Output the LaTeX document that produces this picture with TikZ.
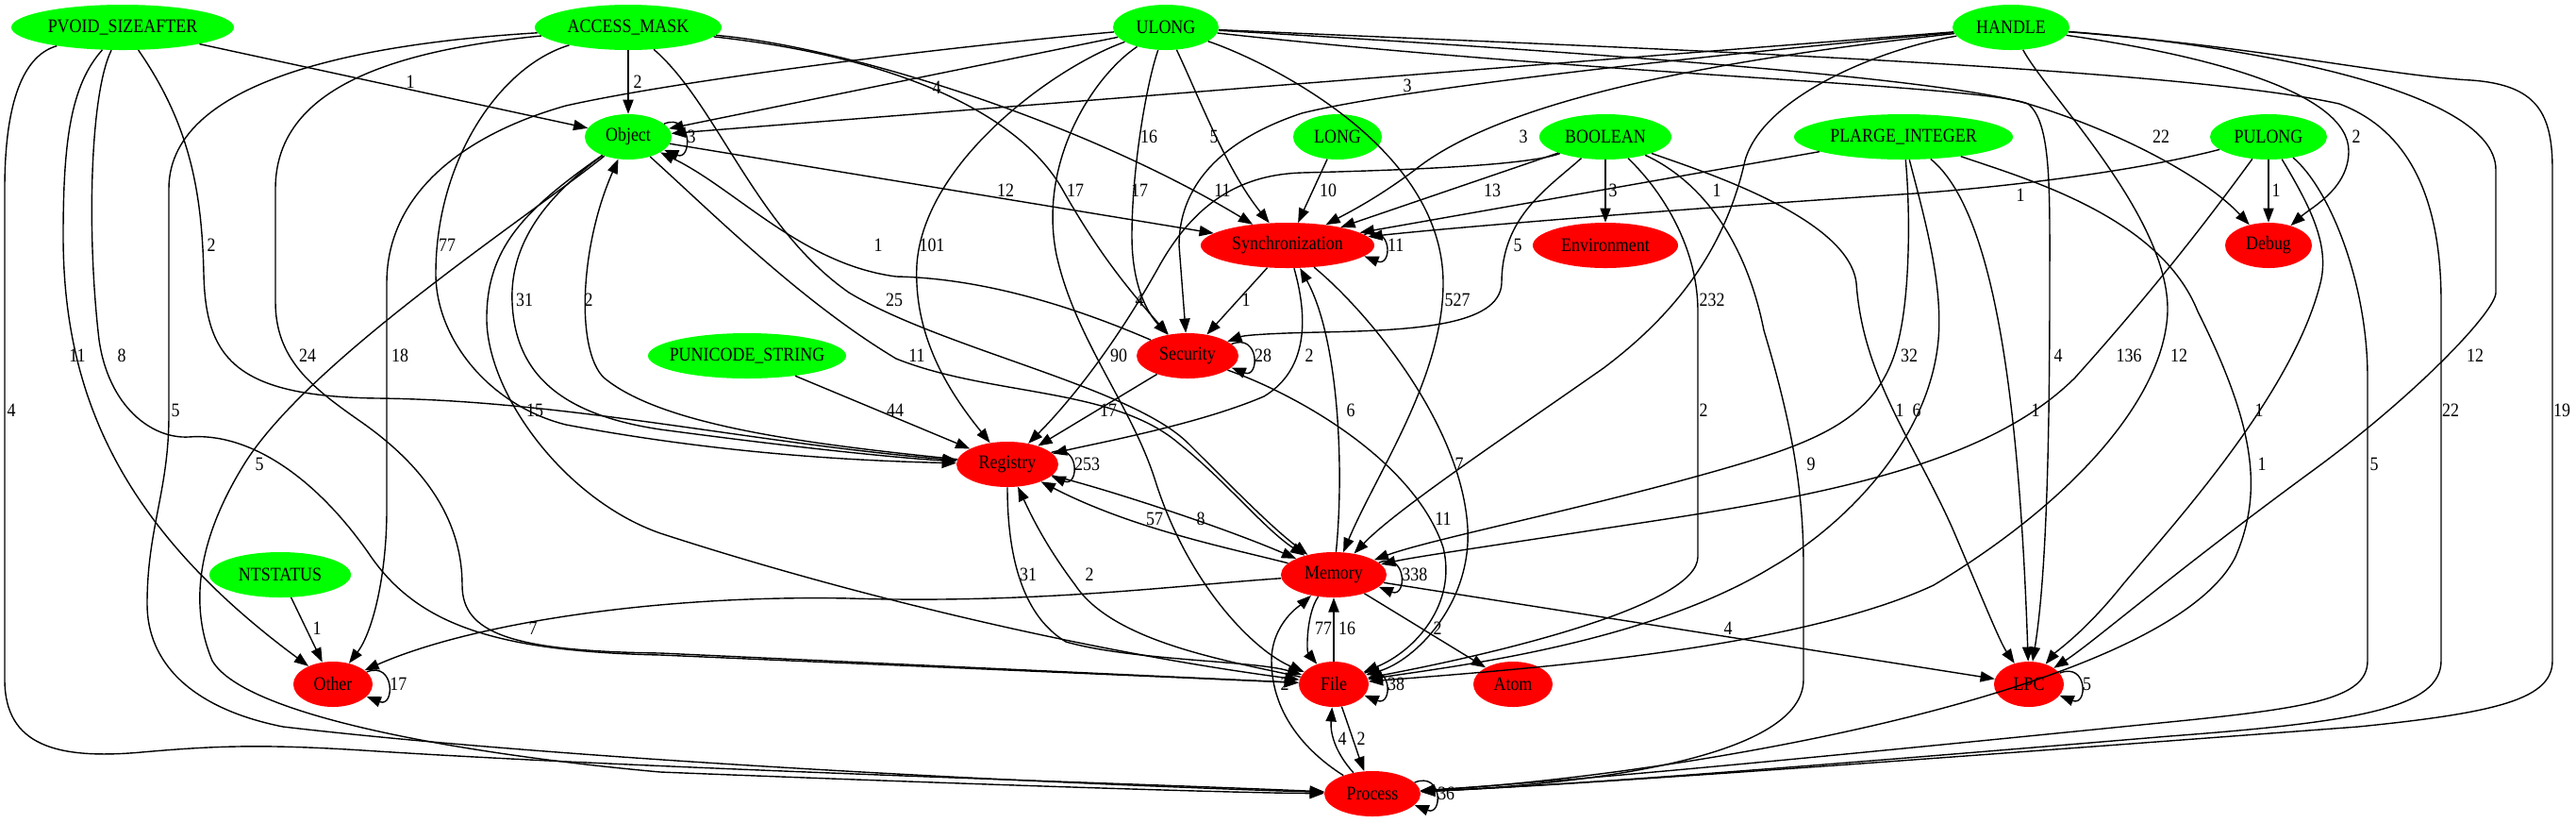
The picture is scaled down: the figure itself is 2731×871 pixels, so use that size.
\documentclass[tikz,border=0pt]{standalone}
\usepackage{fontspec}
\setmainfont{Liberation Serif}[FakeStretch=0.88]
\usetikzlibrary{shapes.geometric, arrows.meta}
\newcommand{\gvfont}{\fontsize{14.5}{16}\selectfont}
\tikzset{
	typ/.style={ellipse, fill=green, inner xsep=-3mm, inner ysep=0pt, minimum height=12mm, font=\gvfont},
	cat/.style={ellipse, fill=red, inner xsep=-3mm, inner ysep=0pt, minimum height=12mm, font=\gvfont},
	lbl/.style={font=\gvfont, inner sep=0pt},
	line/.style={draw, line width=1pt, -{Stealth[length=3.8mm, width=2.8mm, inset=0pt]}}
}

\begin{document}
\begin{tikzpicture}[
	x=0.025cm, y=-0.025cm,
	% Styles
	selfloop/.style={line, to path={.. controls +(30,-12) and +(30,12) .. (\tikztotarget) \tikztonodes}}
	]
	\useasboundingbox (0,0) rectangle (2731,871);

	% Top row: argument types
	\node[typ, minimum width=59mm] (pvoid) at (130,29) {PVOID\_SIZEAFTER};
	\node[typ, minimum width=49.5mm] (accmask) at (666,29) {ACCESS\_MASK};
	\node[typ, minimum width=28mm] (ulong) at (1236,29) {ULONG};
	\node[typ, minimum width=31mm] (handle) at (2132,29) {HANDLE};

	% Second row
	\node[typ, minimum width=23mm] (object) at (666,145) {Object};
	\node[typ, minimum width=23.5mm] (long) at (1418,145) {LONG};
	\node[typ, minimum width=35mm] (boolean) at (1702,145) {BOOLEAN};
	\node[typ, minimum width=58mm] (plarge) at (2018,145) {PLARGE\_INTEGER};
	\node[typ, minimum width=31mm] (pulong) at (2405,145) {PULONG};

	% Categories
	\node[cat, minimum width=46mm] (sync) at (1365,260) {Synchronization};
	\node[cat, minimum width=38.5mm] (env) at (1702,260) {Environment};
	\node[cat, minimum width=23mm] (debug) at (2405,260) {Debug};
	\node[typ, minimum width=52.5mm] (punicode) at (792,377) {PUNICODE\_STRING};
	\node[cat, minimum width=27mm] (security) at (1259,377) {Security};
	\node[cat, minimum width=27mm] (registry) at (1068,492) {Registry};
	\node[typ, minimum width=37.5mm] (ntstatus) at (297,609) {NTSTATUS};
	\node[cat, minimum width=28mm] (memory) at (1414,609) {Memory};
	\node[cat, minimum width=21mm] (other) at (353,725) {Other};
	\node[cat, minimum width=18.5mm] (file) at (1414,725) {File};
	\node[cat, minimum width=21mm] (atom) at (1604,725) {Atom};
	\node[cat, minimum width=18.5mm] (lpc) at (2151,725) {LPC};
	\node[cat, minimum width=25.5mm] (process) at (1455,841) {Process};

	% PVOID_SIZEAFTER
	\draw[line] (435,87) node[lbl] {1} (pvoid) -- (object);
	\draw[line] (224,260) node[lbl] {2} (pvoid) .. controls (200,130) and (214,200) .. (216,290) .. controls (218,380) and (250,420) .. (400,422) .. controls (600,424) and (800,470) .. (registry);
	\draw[line] (82,377) node[lbl] {11} (pvoid) .. controls (75,90) and (67,150) .. (67,250) .. controls (67,420) and (130,560) .. (other);
	\draw[line] (129,377) node[lbl] {8} (pvoid) .. controls (95,100) and (92,250) .. (105,360) .. controls (115,430) and (160,465) .. (200,463) .. controls (260,458) and (330,500) .. (390,585) .. controls (440,660) and (520,690) .. (700,694) -- (file);
	\draw[line] (12,435) node[lbl] {4} (pvoid) .. controls (20,60) and (5,120) .. (5,200) -- (5,720) .. controls (5,790) and (60,805) .. (150,797) .. controls (230,790) and (280,788) .. (400,796) .. controls (700,815) and (1200,830) .. (process);

	% ACCESS_MASK
	\draw[line] (676,87) node[lbl] {2} (accmask) -- (object);
	\draw[line] (474,260) node[lbl] {77} (accmask) .. controls (530,70) and (462,170) .. (462,290) .. controls (462,360) and (520,430) .. (600,450) .. controls (760,480) and (900,488) .. (registry);
	\draw[line] (186,435) node[lbl] {5} (accmask) .. controls (400,45) and (179,80) .. (179,200) -- (179,440) .. controls (179,520) and (156,560) .. (156,640) .. controls (156,700) and (200,750) .. (300,770) .. controls (600,805) and (1100,830) .. (process);
	\draw[line] (326,377) node[lbl] {24} (accmask) .. controls (400,55) and (292,100) .. (292,200) -- (292,320) .. controls (292,380) and (330,410) .. (380,445) .. controls (460,500) and (490,560) .. (490,620) .. controls (490,670) and (540,690) .. (700,692) -- (file);
	\draw[line] (948,318) node[lbl] {25} (accmask) .. controls (760,110) and (800,240) .. (900,310) .. controls (1000,370) and (1200,410) .. (1260,470) .. controls (1320,530) and (1350,560) .. (memory);
	\draw[line] (1296,202) node[lbl] {11} (accmask) .. controls (900,50) and (1150,130) .. (sync);
	\draw[line] (1140,202) node[lbl] {17} (accmask) .. controls (950,60) and (1080,120) .. (1126,200) .. controls (1160,260) and (1190,300) .. (security);

	% ULONG
	\draw[line] (993,93) node[lbl] {4} (ulong) -- (object);
	\draw[line] (424,377) node[lbl] {18} (ulong) .. controls (1000,50) and (720,85) .. (600,112) .. controls (500,140) and (410,200) .. (410,300) -- (410,540) .. controls (410,610) and (395,670) .. (other);
	\draw[line] (988,260) node[lbl] {101} (ulong) .. controls (1120,70) and (980,170) .. (972,280) .. controls (968,360) and (1010,420) .. (registry);
	\draw[line] (1186,377) node[lbl] {90} (ulong) .. controls (1160,80) and (1100,170) .. (1120,270) .. controls (1140,360) and (1200,430) .. (1225,510) .. controls (1260,620) and (1330,690) .. (file);
	\draw[line] (1218,145) node[lbl] {16} (ulong) .. controls (1215,90) and (1200,180) .. (1200,250) .. controls (1200,300) and (1215,330) .. (security);
	\draw[line] (1287,145) node[lbl] {5} (ulong) .. controls (1270,100) and (1300,180) .. (sync);
	\draw[line] (1545,318) node[lbl] {527} (ulong) .. controls (1330,60) and (1530,150) .. (1530,300) .. controls (1530,400) and (1460,500) .. (memory);
	\draw[line] (2291,145) node[lbl] {22} (ulong) .. controls (1600,50) and (2050,80) .. (2150,110) .. controls (2250,140) and (2340,190) .. (debug);
	\draw[line] (2182,377) node[lbl] {4} (ulong) .. controls (1700,80) and (2100,90) .. (2150,110) .. controls (2175,130) and (2173,200) .. (2173,300) .. controls (2173,500) and (2168,620) .. (lpc);
	\draw[line] (2598,435) node[lbl] {22} (ulong) .. controls (1700,50) and (2300,70) .. (2480,110) .. controls (2560,140) and (2588,220) .. (2588,320) -- (2588,700) .. controls (2588,750) and (2500,765) .. (2300,780) .. controls (2000,805) and (1700,830) .. (process);

	% HANDLE
	\draw[line] (1492,91) node[lbl] {3} (handle) -- (object);
	\draw[line] (1615,145) node[lbl] {3} (handle) .. controls (1850,60) and (1600,100) .. (1500,180) .. controls (1460,210) and (1430,225) .. (sync);
	\draw[line] (1208,202) node[lbl] {17} (handle) .. controls (1900,50) and (1500,90) .. (1380,120) .. controls (1290,150) and (1250,200) .. (1250,260) -- (security);
	\draw[line] (1815,318) node[lbl] {232} (handle) .. controls (2000,50) and (1870,100) .. (1850,170) .. controls (1830,260) and (1780,330) .. (1700,390) .. controls (1600,460) and (1480,540) .. (memory);
	\draw[line] (2310,377) node[lbl] {12} (handle) .. controls (2170,100) and (2300,230) .. (2298,330) .. controls (2295,420) and (2200,530) .. (2050,620) .. controls (1900,690) and (1600,710) .. (file);
	\draw[line] (2624,377) node[lbl] {12} (handle) .. controls (2350,45) and (2646,90) .. (2646,180) -- (2646,310) .. controls (2646,330) and (2560,420) .. (2450,500) .. controls (2300,610) and (2220,680) .. (lpc);
	\draw[line] (2498,145) node[lbl] {2} (handle) .. controls (2350,60) and (2490,100) .. (2490,160) .. controls (2490,200) and (2450,220) .. (debug);
	\draw[line] (2716,435) node[lbl] {19} (handle) .. controls (2400,50) and (2530,80) .. (2620,85) .. controls (2690,90) and (2706,120) .. (2706,180) -- (2706,700) .. controls (2706,740) and (2650,755) .. (2500,770) .. controls (2100,800) and (1700,830) .. (process);

	% LONG, BOOLEAN
	\draw[line] (1408,202) node[lbl] {10} (long) -- (sync);
	\draw[line] (1582,202) node[lbl] {13} (boolean) -- (sync);
	\draw[line] (1710,202) node[lbl] {3} (boolean) -- (env);
	\draw[line] (1609,260) node[lbl] {5} (boolean) .. controls (1640,200) and (1592,230) .. (1592,300) .. controls (1590,345) and (1500,350) .. (1400,352) .. controls (1350,353) and (1320,355) .. (security);
	\draw[line] (1208,318) node[lbl] {4} (boolean) .. controls (1620,175) and (1500,180) .. (1380,183) .. controls (1320,185) and (1270,210) .. (1230,280) .. controls (1180,370) and (1130,430) .. (registry);
	\draw[line] (1806,435) node[lbl] {2} (boolean) .. controls (1760,200) and (1800,260) .. (1800,330) -- (1800,590) .. controls (1800,640) and (1600,690) .. (file);
	\draw[line] (2014,435) node[lbl] {1} (boolean) .. controls (1800,180) and (1960,230) .. (1968,300) .. controls (1975,400) and (2030,470) .. (2070,560) .. controls (2100,630) and (2120,680) .. (lpc);
	\draw[line] (1920,492) node[lbl] {9} (boolean) .. controls (1800,190) and (1850,250) .. (1870,350) .. controls (1900,450) and (1912,520) .. (1912,600) -- (1912,720) .. controls (1912,800) and (1700,830) .. (process);

	% PLARGE_INTEGER
	\draw[line] (1820,202) node[lbl] {1} (plarge) -- (sync);
	\draw[line] (2024,377) node[lbl] {32} (plarge) .. controls (2025,220) and (2025,300) .. (2015,350) .. controls (2000,430) and (1950,460) .. (1850,490) .. controls (1700,535) and (1520,570) .. (memory);
	\draw[line] (2032,435) node[lbl] {6} (plarge) .. controls (2040,230) and (2060,300) .. (2055,360) .. controls (2045,470) and (1950,560) .. (1880,600) .. controls (1750,680) and (1550,705) .. (file);
	\draw[line] (2158,435) node[lbl] {1} (plarge) .. controls (2110,220) and (2140,400) .. (lpc);
	\draw[line] (2398,492) node[lbl] {1} (plarge) .. controls (2150,190) and (2290,230) .. (2330,330) .. controls (2390,450) and (2400,520) .. (2370,590) .. controls (2300,730) and (1800,820) .. (process);

	% PULONG
	\draw[line] (2142,207) node[lbl] {1} (pulong) .. controls (2250,185) and (2100,200) .. (2030,205) .. controls (1800,220) and (1550,240) .. (sync);
	\draw[line] (2413,202) node[lbl] {1} (pulong) -- (debug);
	\draw[line] (2257,377) node[lbl] {136} (pulong) .. controls (2350,220) and (2290,300) .. (2200,400) .. controls (2100,500) and (1900,530) .. (1700,560) .. controls (1570,580) and (1500,590) .. (memory);
	\draw[line] (2395,435) node[lbl] {1} (pulong) .. controls (2450,220) and (2470,260) .. (2460,300) .. controls (2430,420) and (2300,560) .. (2250,620) .. controls (2210,670) and (2180,690) .. (lpc);
	\draw[line] (2517,492) node[lbl] {5} (pulong) .. controls (2470,200) and (2510,300) .. (2510,400) -- (2510,700) .. controls (2510,740) and (2450,750) .. (2300,765) .. controls (2000,795) and (1700,825) .. (process);

	% Object
	\draw[line] (1066,202) node[lbl] {12} (object) -- (sync);
	\draw[line] (556,318) node[lbl] {31} (object) .. controls (590,200) and (540,250) .. (543,320) .. controls (546,400) and (600,440) .. (700,455) .. controls (850,475) and (950,485) .. (registry);
	\draw[line] (567,435) node[lbl] {15} (object) .. controls (560,220) and (515,260) .. (516,340) .. controls (518,420) and (600,530) .. (700,565) .. controls (900,630) and (1150,690) .. (file);
	\draw[line] (275,492) node[lbl] {5} (object) .. controls (560,230) and (330,380) .. (260,490) .. controls (210,570) and (200,640) .. (225,700) .. controls (260,760) and (500,800) .. (700,818) .. controls (1000,830) and (1300,840) .. (process);
	\draw[line] (972,377) node[lbl] {11} (object) .. controls (760,230) and (850,320) .. (950,380) .. controls (1050,420) and (1180,410) .. (1250,470) .. controls (1300,510) and (1340,560) .. (memory);
	\draw[selfloop] (object.20) to node[lbl, right=1pt] {3} (object.-20);

	% Synchronization, Security
	\draw[line] (1321,318) node[lbl] {1} (sync) -- (security);
	\draw[line] (1388,377) node[lbl] {2} (sync) .. controls (1385,330) and (1390,390) .. (1340,420) .. controls (1270,450) and (1160,470) .. (registry);
	\draw[line] (1547,492) node[lbl] {7} (sync) .. controls (1450,330) and (1550,450) .. (1556,560) .. controls (1560,640) and (1500,700) .. (file);
	\draw[selfloop] (sync.8) to node[lbl, right=1pt] {11} (sync.-8);
	\draw[line] (931,260) node[lbl] {1} (security) .. controls (1150,330) and (1050,295) .. (950,293) .. controls (850,280) and (780,200) .. (object);
	\draw[line] (1175,435) node[lbl] {17} (security) -- (registry);
	\draw[line] (1530,550) node[lbl] {11} (security) .. controls (1380,420) and (1500,490) .. (1530,580) .. controls (1545,640) and (1500,690) .. (file);
	\draw[selfloop] (security.15) to node[lbl, right=1pt] {28} (security.-15);
	\draw[line] (949,435) node[lbl] {44} (punicode) -- (registry);

	% Registry
	\draw[line] (624,318) node[lbl] {2} (registry) .. controls (850,470) and (700,450) .. (640,400) .. controls (610,370) and (615,260) .. (object);
	\draw[line] (1090,609) node[lbl] {31} (registry) .. controls (1068,580) and (1080,650) .. (1130,680) .. controls (1200,700) and (1330,700) .. (file);
	\draw[line] (1273,550) node[lbl] {8} (registry) .. controls (1180,520) and (1300,560) .. (memory);
	\draw[selfloop] (registry.15) to node[lbl, right=1pt] {253} (registry.-15);

	% Memory
	\draw[line] (1432,435) node[lbl] {6} (memory) .. controls (1425,500) and (1420,360) .. (sync);
	\draw[line] (1224,550) node[lbl] {57} (memory) .. controls (1300,580) and (1200,560) .. (registry);
	\draw[line] (565,666) node[lbl] {7} (memory) .. controls (1250,620) and (1100,640) .. (900,634) .. controls (700,630) and (500,660) .. (other);
	\draw[line] (1403,666) node[lbl] {77} (memory) .. controls (1385,650) and (1385,690) .. (file);
	\draw[line] (1524,666) node[lbl] {2} (memory) -- (atom);
	\draw[line] (1832,666) node[lbl] {4} (memory) -- (lpc);
	\draw[selfloop] (memory.15) to node[lbl, right=1pt] {338} (memory.-15);

	% File, Process
	\draw[line] (1428,666) node[lbl] {16} (file) -- (memory);
	\draw[line] (1155,609) node[lbl] {2} (file) .. controls (1300,700) and (1180,680) .. (1140,620) .. controls (1110,580) and (1095,550) .. (registry);
	\draw[line] (1443,783) node[lbl] {2} (file) .. controls (1430,770) and (1440,800) .. (process);
	\draw[selfloop] (file.20) to node[lbl, right=1pt] {38} (file.-20);
	\draw[line] (1423,783) node[lbl] {4} (process) .. controls (1418,800) and (1410,780) .. (file);
	\draw[line] (1362,725) node[lbl] {2} (process) .. controls (1390,800) and (1348,760) .. (1348,700) .. controls (1348,660) and (1380,640) .. (memory);
	\draw[selfloop] (process.15) to node[lbl, right=1pt] {36} (process.-15);

	% NTSTATUS, Other, LPC
	\draw[line] (336,666) node[lbl] {1} (ntstatus) -- (other);
	\draw[selfloop] (other.20) to node[lbl, right=1pt] {17} (other.-20);
	\draw[selfloop] (lpc.20) to node[lbl, right=1pt] {5} (lpc.-20);

\end{tikzpicture}
\end{document}
